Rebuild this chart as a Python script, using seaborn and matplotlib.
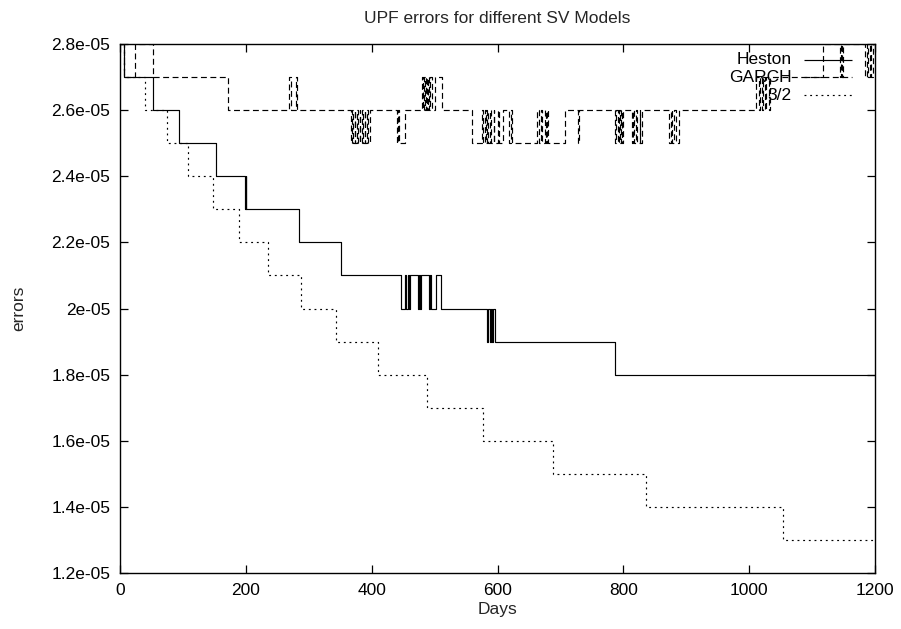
import numpy as np
import pandas as pd
import matplotlib
matplotlib.use("Agg")
import matplotlib.pyplot as plt
from matplotlib.ticker import FuncFormatter, MultipleLocator
import seaborn as sns

# ---- data: step change points (day, error in units of 1e-5) ----
heston_steps = [(0, 2.8), (7, 2.7), (53, 2.6), (93, 2.5), (152, 2.4), (199, 2.3), (200, 2.4),
                (201, 2.3), (284, 2.2), (352, 2.1),
                (446, 2.0), (453, 2.1), (455, 2.0), (457, 2.1), (459, 2.0), (461, 2.1),
                (473, 2.0), (475, 2.1), (477, 2.0), (479, 2.1), (491, 2.0), (493, 2.1),
                (494, 2.0), (502, 2.1), (510, 2.0),
                (583, 1.9), (585, 2.0), (588, 1.9), (590, 2.0), (591, 1.9), (593, 2.0),
                (596, 1.9), (786, 1.8)]

garch_steps = [(0, 2.8), (7, 2.7), (24, 2.8), (53, 2.7), (171, 2.6),
               (269, 2.7), (271, 2.6), (280, 2.7), (282, 2.6),
               (367, 2.5), (369, 2.6), (370, 2.5), (373, 2.6), (374, 2.5), (377, 2.6),
               (378, 2.5), (381, 2.6), (382, 2.5), (385, 2.6), (386, 2.5), (389, 2.6),
               (390, 2.5), (393, 2.6), (394, 2.5), (398, 2.6),
               (440, 2.5), (442, 2.6), (443, 2.5), (453, 2.6),
               (480, 2.7), (482, 2.6), (483, 2.7), (485, 2.6), (486, 2.7), (488, 2.6),
               (489, 2.7), (491, 2.6), (492, 2.7), (496, 2.6), (501, 2.7), (512, 2.6),
               (560, 2.5), (576, 2.6), (577, 2.5), (580, 2.6), (581, 2.5), (584, 2.6),
               (585, 2.5), (588, 2.6), (590, 2.5), (594, 2.6), (595, 2.5), (600, 2.6),
               (602, 2.5), (608, 2.6), (619, 2.5), (621, 2.6), (623, 2.5),
               (663, 2.6), (666, 2.5), (669, 2.6), (671, 2.5), (675, 2.6), (677, 2.5),
               (679, 2.6), (681, 2.5), (708, 2.6), (728, 2.5), (730, 2.6),
               (787, 2.5), (789, 2.6), (791, 2.5), (793, 2.6), (795, 2.5), (797, 2.6),
               (798, 2.5), (800, 2.6),
               (813, 2.5), (815, 2.6), (817, 2.5), (820, 2.6), (822, 2.5), (826, 2.6),
               (827, 2.5), (829, 2.6),
               (872, 2.5), (875, 2.6), (877, 2.5), (881, 2.6), (883, 2.5), (888, 2.6),
               (1011, 2.7), (1015, 2.6), (1017, 2.7), (1020, 2.6), (1022, 2.7),
               (1025, 2.6), (1027, 2.7), (1031, 2.6), (1033, 2.7),
               (1117, 2.8), (1144, 2.7), (1146, 2.8), (1147, 2.7), (1149, 2.8),
               (1184, 2.7), (1187, 2.8), (1189, 2.7), (1192, 2.8), (1194, 2.7), (1197, 2.8)]

threehalf_steps = [(0, 2.8), (7, 2.7), (40, 2.6), (74, 2.5), (108, 2.4), (148, 2.3),
                   (189, 2.2), (236, 2.1), (287, 2.0), (343, 1.9), (410, 1.8), (488, 1.7),
                   (577, 1.6), (688, 1.5), (836, 1.4), (1054, 1.3)]

series_names = ["Heston", "GARCH", "3/2"]
x_ticks = [0, 200, 400, 600, 800, 1000, 1200]
SCALE = 1e-5
X_END = 1200


def make_frame(steps, name):
    d = [s[0] for s in steps] + [X_END]
    v = [s[1] for s in steps] + [steps[-1][1]]
    return pd.DataFrame({"Days": d, "errors": np.array(v) * SCALE, "model": name})


frames = [make_frame(heston_steps, "Heston"),
          make_frame(garch_steps, "GARCH"),
          make_frame(threehalf_steps, "3/2")]

sns.set_theme(style="white")
plt.rcParams["font.family"] = ["Liberation Sans", "DejaVu Sans"]

fig = plt.figure(figsize=(9.01, 6.29), dpi=100)
ax = fig.add_axes([120 / 901, 1 - 573 / 629, (875 - 120) / 901, (573 - 44) / 629])

styles = {"Heston": (0, ()), "GARCH": (0, (5, 3)), "3/2": (0, (1.6, 3.2))}
for df, name in zip(frames, series_names):
    sns.lineplot(data=df, x="Days", y="errors", ax=ax, drawstyle="steps-post",
                 estimator=None, sort=False, color="black", linewidth=0.85,
                 linestyle=styles[name], legend=False)

ax.set_xlim(0, 1200)
ax.set_ylim(1.2e-5, 2.8e-5)
ax.set_xticks(x_ticks)
ax.yaxis.set_major_locator(MultipleLocator(0.2e-5))
ax.yaxis.set_major_formatter(FuncFormatter(lambda v, p: "%g" % float("%.3g" % v)))
ax.tick_params(direction="in", length=6, width=0.9, top=True, right=True,
               bottom=True, left=True, labelsize=12.5, colors="black", pad=7)
for s in ax.spines.values():
    s.set_color("black")
    s.set_linewidth(1.0)

ax.set_xlabel("Days", fontsize=12.5, labelpad=3)
ax.set_ylabel("errors", fontsize=12.5, labelpad=18)
ax.set_title("UPF errors for different SV Models", fontsize=12.5, pad=15)

# gnuplot-style key: right-aligned labels with line samples
key_y = [0.970, 0.937, 0.903]
for name, yk in zip(series_names, key_y):
    ax.text(0.890, yk, name, transform=ax.transAxes, ha="right", va="center",
            fontsize=12.5, color="black")
    ax.plot([0.906, 0.970], [yk, yk], transform=ax.transAxes, color="black",
            linewidth=0.85, linestyle=styles[name])

fig.savefig("out.png", dpi=100)
